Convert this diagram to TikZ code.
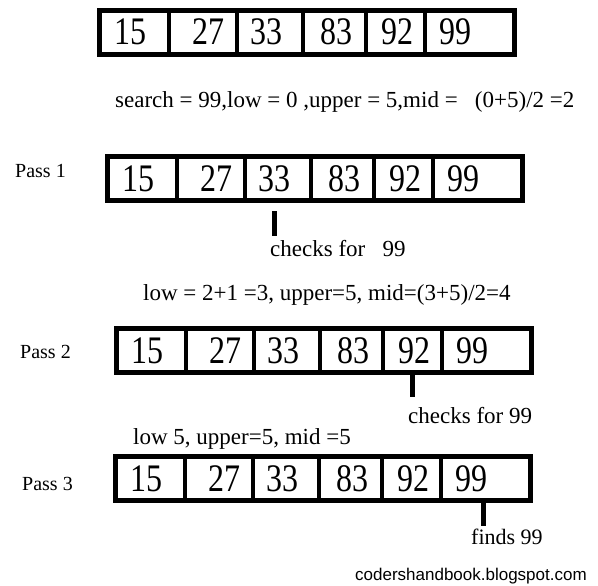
\documentclass[tikz,border=0pt]{standalone}
\usepackage{fontspec}
\setmainfont{Liberation Serif}
\newfontfamily\wmfont{Liberation Sans}
\tikzset{
  cellbox/.style={draw, line width=4.6pt, rectangle, inner sep=0pt, minimum height=44pt},
  digit/.style={font=\fontsize{39}{40}\selectfont, xscale=0.82, anchor=base, inner sep=0pt},
  lbl/.style={font=\fontsize{23}{25}\selectfont, anchor=base west, inner sep=0pt},
  passlbl/.style={font=\fontsize{20}{22}\selectfont, anchor=base west, inner sep=0pt},
  tickline/.style={line width=5pt},
}
\newcommand\drawarr[3]{%
  \foreach \a/\b/\v/\c/\i in {2.5/72/15/33/1, 72/140/27/111/2, 140/206/33/169/3, 206/269/83/239/4, 269/328/92/300/5, 328/417.5/99/358/6}{%
    \node[cellbox, minimum width={\b-\a}] (#1c\i) at ({#2+(\a+\b)/2},{#3+24.5}) {};
    \node[digit] (#1v\i) at ({#2+\c},{#3+37}) {\v};
  }}
\begin{document}
\begin{tikzpicture}[x=1pt,y=-1pt]
  \fill[white] (0,0) rectangle (598,586);
  \useasboundingbox (0,0) rectangle (598,586);
  % arrays
  \drawarr{a}{97}{8}
  \drawarr{p}{105}{154}
  \drawarr{q}{114}{326}
  \drawarr{r}{113}{454}
  % texts
  \node[lbl] (s0) at (115,108) {search = 99,low = 0 ,upper = 5,mid =\ \ \ (0+5)/2 =2};
  \node[passlbl] (pass1) at (15,178) {Pass 1};
  \node[lbl] (ck1) at (270,256) {checks for \ \ 99};
  \node[lbl] (s1) at (143,300) {low = 2+1 =3, upper=5, mid=(3+5)/2=4};
  \node[passlbl] (pass2) at (20,358) {Pass 2};
  \node[lbl] (ck2) at (408,423) {checks for 99};
  \node[lbl] (s2) at (133,444) {low 5, upper=5, mid =5};
  \node[passlbl] (pass3) at (22,490) {Pass 3};
  \node[lbl, font=\fontsize{22}{24}\selectfont] (fd) at (471,544) {finds 99};
  \node[anchor=base west, inner sep=0pt, font=\wmfont\fontsize{17}{19}\selectfont] (wm) at (355,580) {codershandbook.blogspot.com};
  % ticks
  \coordinate (t1a) at (274,211);
  \coordinate (t1b) at (274,236);
  \coordinate (t2a) at (412,374);
  \coordinate (t2b) at (412,397);
  \coordinate (t3a) at (483,503);
  \coordinate (t3b) at (483,526);
  \draw[tickline] (t1a) -- (t1b);
  \draw[tickline] (t2a) -- (t2b);
  \draw[tickline] (t3a) -- (t3b);
\end{tikzpicture}
\end{document}
